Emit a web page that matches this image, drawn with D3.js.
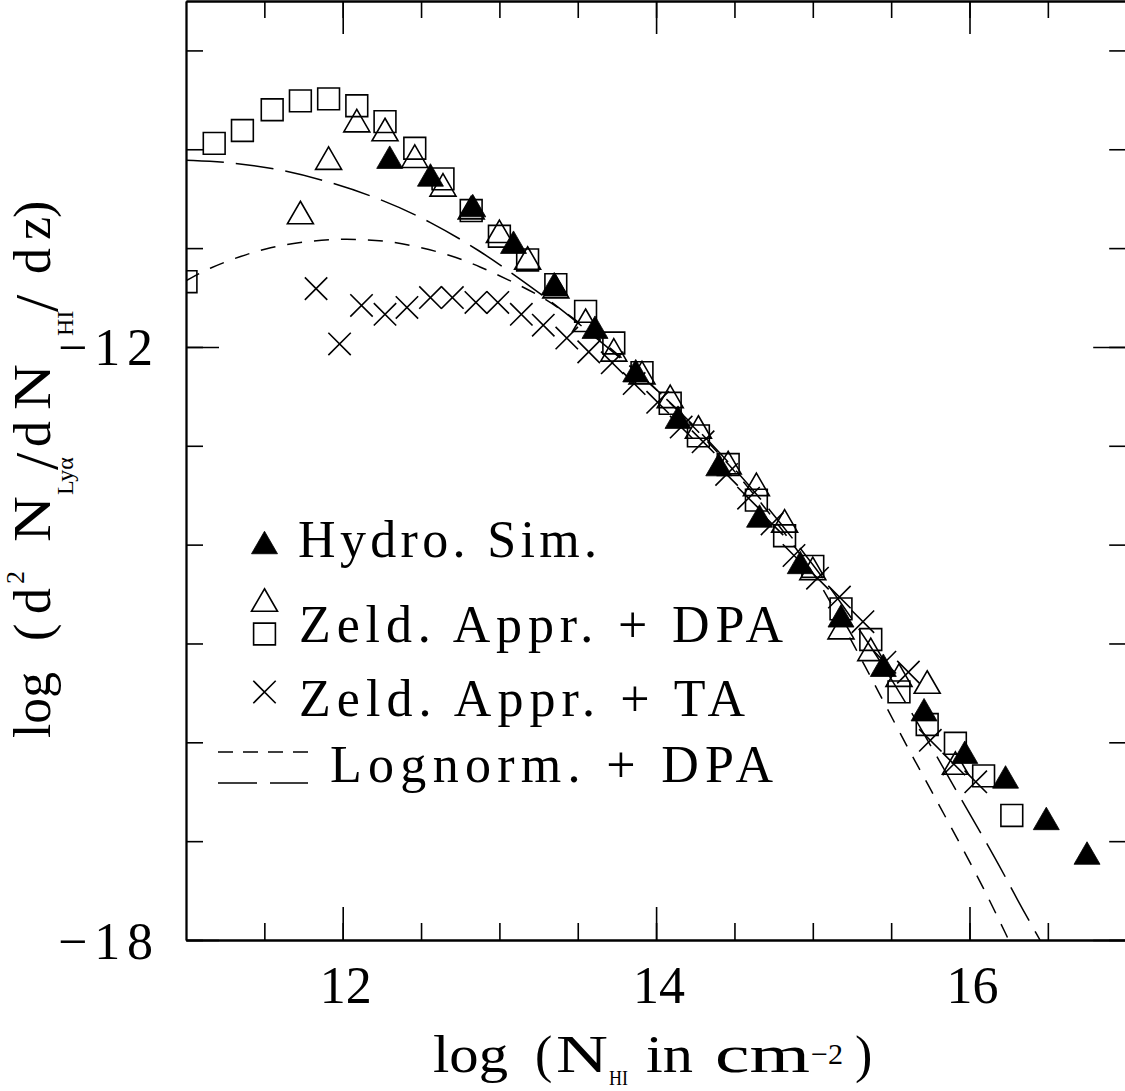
<!DOCTYPE html>
<html>
<head>
<meta charset="utf-8">
<script src="https://cdn.jsdelivr.net/npm/d3@7"></script>
<style>
  html, body { margin: 0; padding: 0; background: #fff; }
  svg { display: block; }
  text { font-family: "Liberation Serif", "Times New Roman", serif; fill: #000; }
</style>
</head>
<body>
<svg id="chart" width="1125" height="1091"></svg>
<script>
// ---------------- data ----------------
// Hydrodynamic simulation (filled triangles)
const hydroX = [12.30, 12.56, 12.83, 13.09, 13.35, 13.61, 13.87, 14.14, 14.40,
                14.66, 14.92, 15.18, 15.45, 15.71, 15.97, 16.23, 16.49, 16.75];
const hydroY = [-10.08, -10.26, -10.57, -10.94, -11.36, -11.80, -12.24, -12.71, -13.19,
                -13.71, -14.18, -14.72, -15.22, -15.67, -16.10, -16.35, -16.77, -17.12];

// Zel'dovich approximation + DPA, first run (open triangles)
const zeldTriX = [11.73, 11.91, 12.09, 12.27, 12.46, 12.64, 12.82, 13.00, 13.18, 13.36, 13.55, 13.73,
                  13.91, 14.09, 14.27, 14.46, 14.64, 14.82, 15.00, 15.18, 15.37, 15.55, 15.73, 15.91];
const zeldTriY = [-10.64, -10.09, -9.71, -9.80, -10.07, -10.36, -10.59, -10.83, -11.10, -11.39, -11.73, -12.03,
                  -12.26, -12.50, -12.81, -13.17, -13.39, -13.76, -14.24, -14.84, -15.06, -15.32, -15.39, -16.21];

// Zel'dovich approximation + DPA, second run (open squares)
const zeldSqX = [11.00, 11.18, 11.36, 11.55, 11.73, 11.91, 12.09, 12.27, 12.46, 12.64,
                 12.82, 13.00, 13.18, 13.36, 13.55, 13.73, 13.91, 14.09, 14.27, 14.46,
                 14.64, 14.82, 15.00, 15.18, 15.37, 15.55, 15.73, 15.91, 16.09, 16.27];
const zeldSqY = [-11.34, -9.94, -9.81, -9.60, -9.51, -9.49, -9.56, -9.72, -9.99, -10.30,
                 -10.62, -10.88, -11.12, -11.37, -11.64, -11.96, -12.26, -12.57, -12.90, -13.19,
                 -13.55, -13.91, -14.22, -14.65, -14.96, -15.49, -15.82, -16.01, -16.34, -16.74];

// Zel'dovich approximation + TA (crosses)
const zeldTaX = [11.83, 11.98, 12.12, 12.27, 12.41, 12.56, 12.70, 12.85, 12.99, 13.14,
                 13.28, 13.43, 13.57, 13.72, 13.86, 14.01, 14.16, 14.30, 14.45, 14.59,
                 14.74, 14.88, 15.03, 15.17, 15.32, 15.46, 15.61, 15.75, 15.90, 16.04];
const zeldTaY = [-11.41, -11.97, -11.58, -11.67, -11.60, -11.50, -11.50, -11.55, -11.55, -11.67,
                 -11.78, -11.91, -12.05, -12.16, -12.37, -12.56, -12.81, -12.96, -13.29, -13.53,
                 -13.79, -14.11, -14.34, -14.53, -14.78, -15.19, -15.29, -15.98, -16.22, -16.40];

// Lognormal model + DPA, long-dashed curve
const lognormLongX = [11.00, 11.28, 11.60, 11.92, 12.24, 12.56, 12.88, 13.13, 13.39, 13.64, 13.90,
                      14.15, 14.41, 14.66, 14.92, 15.17, 15.43, 15.67, 15.94, 16.18, 16.30, 16.45];
const lognormLongY = [-10.11, -10.13, -10.20, -10.33, -10.50, -10.73, -11.03, -11.31, -11.61, -11.94, -12.28,
                      -12.65, -13.07, -13.52, -14.03, -14.56, -15.17, -15.80, -16.56, -17.21, -17.58, -18.00];

// Lognormal model + DPA, short-dashed curve
const lognormShortX = [11.00, 11.15, 11.35, 11.54, 11.73, 11.92, 12.11, 12.30, 12.49, 12.69, 12.88, 13.07, 13.26, 13.45,
                       13.64, 13.90, 14.15, 14.41, 14.66, 14.92, 15.05, 15.24, 15.43, 15.59, 15.75, 15.92, 16.09, 16.25];
const lognormShortY = [-11.33, -11.20, -11.08, -10.99, -10.94, -10.91, -10.91, -10.93, -10.99, -11.07, -11.19, -11.33, -11.48, -11.68,
                       -11.92, -12.27, -12.66, -13.09, -13.55, -14.09, -14.40, -14.95, -15.52, -16.01, -16.47, -16.97, -17.47, -18.00];

// axes
const xMajorTicks = [12, 14, 16];
const xTickLabels = ["12", "14", "16"];
const xMinorTicks = [11.5, 12, 12.5, 13, 13.5, 14, 14.5, 15, 15.5, 16, 16.5];
const yMajorTicks = [-12, -18];
const yTickLabels = ["\u221212", "\u221218"];
const yMinorTicks = [-9, -10, -11, -12, -13, -14, -15, -16, -17, -18];

const legendLabels = ["Hydro. Sim.", "Zeld. Appr. + DPA", "Zeld. Appr. + TA", "Lognorm. + DPA"];

(function draw() {
  // ---------------- layout ----------------
  const svg = d3.select("#chart");
  const pLeft = 186, pRight = 1126.2, pTop = 1, pBottom = 940;
  const x = d3.scaleLinear().domain([11, 17]).range([pLeft, pRight]);
  const y = d3.scaleLinear().domain([-8.5, -18]).range([pTop, pBottom]);

  const zip = (a, b) => a.map((v, i) => [v, b[i]]);

  // marker shapes
  const triPath = (w, h) => `M0,${-h / 2}L${w / 2},${h / 2}L${-w / 2},${h / 2}Z`;
  const sqPath = s => { const a = s / 2; return `M${-a},${-a}H${a}V${a}H${-a}Z`; };
  const crossPath = a => `M${-a},${-a}L${a},${a}M${-a},${a}L${a},${-a}`;
  const TRI = triPath(26, 22.5), SQ = sqPath(21.8), CROSS = crossPath(11.2);
  const LW = 1.6;

  // ---------------- axes ----------------
  function styleAxis(g) {
    g.selectAll(".domain").attr("stroke", "#000").attr("stroke-width", 1.8);
    g.selectAll(".tick line").attr("stroke", "#000").attr("stroke-width", 1.6);
    g.selectAll(".tick text").remove();
  }
  const axes = svg.append("g");
  const mk = (axisFn, scale, vals, size) =>
    axisFn(scale).tickValues(vals).tickSize(-size).tickSizeOuter(0).tickFormat("");

  axes.append("g").attr("transform", `translate(0,${pBottom})`).call(mk(d3.axisBottom, x, xMinorTicks, 17)).call(styleAxis);
  axes.append("g").attr("transform", `translate(0,${pBottom})`).call(mk(d3.axisBottom, x, xMajorTicks, 33)).call(styleAxis);
  axes.append("g").attr("transform", `translate(0,${pTop})`).call(mk(d3.axisTop, x, xMinorTicks, 17)).call(styleAxis);
  axes.append("g").attr("transform", `translate(0,${pTop})`).call(mk(d3.axisTop, x, xMajorTicks, 33)).call(styleAxis);
  axes.append("g").attr("transform", `translate(${pLeft},0)`).call(mk(d3.axisLeft, y, yMinorTicks, 17)).call(styleAxis);
  axes.append("g").attr("transform", `translate(${pLeft},0)`).call(mk(d3.axisLeft, y, yMajorTicks, 33)).call(styleAxis);
  axes.append("g").attr("transform", `translate(${pRight},0)`).call(mk(d3.axisRight, y, yMinorTicks, 17)).call(styleAxis);
  axes.append("g").attr("transform", `translate(${pRight},0)`).call(mk(d3.axisRight, y, yMajorTicks, 33)).call(styleAxis);

  // tick labels
  svg.append("g").selectAll("text").data(xMajorTicks).join("text")
    .attr("x", d => x(d) + 3).attr("y", 1003)
    .attr("text-anchor", "middle").attr("font-size", 52)
    .attr("textLength", 52).attr("lengthAdjust", "spacingAndGlyphs")
    .text((d, i) => xTickLabels[i]);

  svg.append("g").selectAll("text").data(yMajorTicks).join("text")
    .attr("x", 153).attr("y", d => y(d) + 18.5)
    .attr("text-anchor", "end").attr("font-size", 52)
    .attr("textLength", 95).attr("lengthAdjust", "spacing")
    .text((d, i) => yTickLabels[i]);

  // ---------------- plot area ----------------
  svg.append("clipPath").attr("id", "plotClip")
    .append("rect").attr("x", pLeft).attr("y", pTop).attr("width", pRight - pLeft).attr("height", pBottom - pTop);
  const plot = svg.append("g").attr("clip-path", "url(#plotClip)");

  const line = d3.line().x(d => x(d[0])).y(d => y(d[1])).curve(d3.curveBasis);

  plot.append("path").datum(zip(lognormLongX, lognormLongY)).attr("d", line)
    .attr("fill", "none").attr("stroke", "#000").attr("stroke-width", 1.5).attr("stroke-dasharray", "38,12");
  plot.append("path").datum(zip(lognormShortX, lognormShortY)).attr("d", line)
    .attr("fill", "none").attr("stroke", "#000").attr("stroke-width", 1.5).attr("stroke-dasharray", "15,12");

  function markers(xs, ys, d, filled) {
    plot.append("g").selectAll("path").data(zip(xs, ys)).join("path")
      .attr("transform", p => `translate(${x(p[0])},${y(p[1])})`)
      .attr("d", d)
      .attr("fill", filled ? "#000" : "none")
      .attr("stroke", "#000").attr("stroke-width", filled ? 0.8 : LW)
      .attr("stroke-linejoin", "miter");
  }
  markers(zeldTaX, zeldTaY, CROSS, false);
  markers(zeldSqX, zeldSqY, SQ, false);
  markers(zeldTriX, zeldTriY, TRI, false);
  markers(hydroX, hydroY, TRI, true);

  // ---------------- legend ----------------
  const lg = svg.append("g");
  const legendMarkers = [
    { d: TRI, filled: true, cx: 264.5, cy: 542.5 },
    { d: TRI, filled: false, cx: 264.5, cy: 600 },
    { d: SQ, filled: false, cx: 264.5, cy: 634 },
    { d: CROSS, filled: false, cx: 264.5, cy: 692 }
  ];
  lg.selectAll("path.m").data(legendMarkers).join("path").attr("class", "m")
    .attr("transform", m => `translate(${m.cx},${m.cy})`)
    .attr("d", m => m.d)
    .attr("fill", m => m.filled ? "#000" : "none")
    .attr("stroke", "#000").attr("stroke-width", m => m.filled ? 0.8 : LW);

  lg.append("line").attr("x1", 218).attr("x2", 308).attr("y1", 752).attr("y2", 752)
    .attr("stroke", "#000").attr("stroke-width", 1.5).attr("stroke-dasharray", "15,10");
  lg.append("line").attr("x1", 218).attr("x2", 308).attr("y1", 783).attr("y2", 783)
    .attr("stroke", "#000").attr("stroke-width", 1.5).attr("stroke-dasharray", "39,13");

  const legendText = [
    { x: 298, y: 557, len: 299 },
    { x: 299, y: 642, len: 484 },
    { x: 299, y: 716, len: 446 },
    { x: 330, y: 782, len: 443 }
  ];
  lg.selectAll("text").data(legendText).join("text")
    .attr("x", t => t.x).attr("y", t => t.y)
    .attr("font-size", 52)
    .attr("textLength", t => t.len).attr("lengthAdjust", "spacing")
    .text((t, i) => legendLabels[i]);

  // ---------------- axis titles ----------------
  // x title: log (N_HI in cm^-2)
  const xTitle = [
    { s: "log", x: 433, y: 1072, fs: 52, len: 75 },
    { s: "(", x: 535, y: 1072, fs: 52 },
    { s: "N", x: 556, y: 1072, fs: 52, len: 52 },
    { s: "HI", x: 609, y: 1085, fs: 20, len: 19 },
    { s: "in", x: 646, y: 1072, fs: 52, len: 47 },
    { s: "cm", x: 715, y: 1072, fs: 52, len: 95 },
    { s: "\u22122", x: 811, y: 1064, fs: 30, len: 32 },
    { s: ")", x: 855, y: 1072, fs: 52 }
  ];
  const xt = svg.append("g");
  xTitle.forEach(p => {
    const t = xt.append("text").attr("x", p.x).attr("y", p.y).attr("font-size", p.fs).text(p.s);
    if (p.len) t.attr("textLength", p.len).attr("lengthAdjust", "spacingAndGlyphs");
  });

  // y title: log (d^2 N_Lya / dN_HI / dz), rotated to read upwards
  const yTitle = [
    { s: "log", at: 738, base: 50, fs: 52, len: 66 },
    { s: "(", at: 641, base: 50, fs: 52 },
    { s: "d", at: 614, base: 50, fs: 52 },
    { s: "2", at: 584, base: 24, fs: 26 },
    { s: "N", at: 542, base: 50, fs: 52, len: 46 },
    { s: "Ly\u03b1", at: 495, base: 73, fs: 24 },
    { s: "/", at: 470, base: 57, fs: 62 },
    { s: "d", at: 447, base: 50, fs: 52 },
    { s: "N", at: 410, base: 50, fs: 52, len: 46 },
    { s: "HI", at: 336, base: 73, fs: 24 },
    { s: "/", at: 312, base: 57, fs: 62 },
    { s: "d", at: 274, base: 50, fs: 52 },
    { s: "z", at: 240, base: 50, fs: 52 },
    { s: ")", at: 218, base: 50, fs: 52 }
  ];
  const yt = svg.append("g");
  yTitle.forEach(p => {
    const t = yt.append("text")
      .attr("transform", `translate(${p.base},${p.at}) rotate(-90)`)
      .attr("font-size", p.fs).text(p.s);
    if (p.len) t.attr("textLength", p.len).attr("lengthAdjust", "spacingAndGlyphs");
  });
})();
</script>
</body>
</html>
